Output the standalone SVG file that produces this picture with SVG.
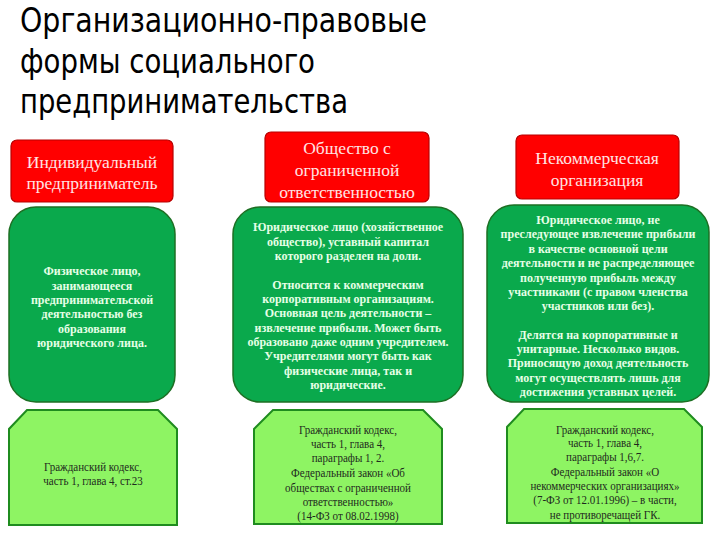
<svg xmlns="http://www.w3.org/2000/svg" width="720" height="540" viewBox="0 0 720 540">
<style>
.title{font-family:"DejaVu Sans Condensed","DejaVu Sans",Verdana,sans-serif;font-size:34px;fill:#000}
.red{fill:#ff0000;stroke:#b80000;stroke-width:1.2}
.redt{font-family:"Liberation Serif","Times New Roman",serif;font-size:17.5px;fill:#ffe4e4;text-anchor:middle}
.grn{fill:#0aa94c;stroke:#1d6f23;stroke-width:1.5}
.grnt{font-family:"Liberation Serif","Times New Roman",serif;font-size:12px;font-weight:bold;fill:#e6ffe6;text-anchor:middle}
.lg{fill:#8ef463;stroke:#1f8c1f;stroke-width:2}
.lgt{font-family:"Liberation Serif","Times New Roman",serif;font-size:12.5px;fill:#1e2a1e;text-anchor:middle}
</style>
<rect width="720" height="540" fill="#ffffff"/>
<g id="title">
<text class="title" x="20" y="32" textLength="407" lengthAdjust="spacingAndGlyphs">Организационно-правовые</text>
<text class="title" x="20" y="73" textLength="295" lengthAdjust="spacingAndGlyphs">формы социального</text>
<text class="title" x="20" y="113" textLength="328" lengthAdjust="spacingAndGlyphs">предпринимательства</text>
</g>
<g id="connectors"/>
<g id="ip-head">
<rect class="red" x="11" y="140" width="162" height="62" rx="6"/>
<text class="redt" x="92" y="168">Индивидуальный</text>
<text class="redt" x="92" y="189">предприниматель</text>
</g>
<g id="ooo-head">
<rect class="red" x="265" y="132" width="164" height="70" rx="6"/>
<text class="redt" x="347" y="154">Общество с</text>
<text class="redt" x="347" y="176">ограниченной</text>
<text class="redt" x="347" y="198">ответственностью</text>
</g>
<g id="nko-head">
<rect class="red" x="516" y="135" width="163" height="64" rx="6"/>
<text class="redt" x="597" y="164">Некоммерческая</text>
<text class="redt" x="597" y="186">организация</text>
</g>
<g id="ip-desc">
<rect class="grn" x="9" y="207" width="166" height="195" rx="27"/>
<text class="grnt" x="92" y="275">Физическое лицо,</text>
<text class="grnt" x="92" y="289.5">занимающееся</text>
<text class="grnt" x="92" y="304">предпринимательской</text>
<text class="grnt" x="92" y="318">деятельностью без</text>
<text class="grnt" x="92" y="332.5">образования</text>
<text class="grnt" x="92" y="347">юридического лица.</text>
</g>
<g id="ooo-desc">
<rect class="grn" x="233" y="207" width="230" height="195" rx="27"/>
<text class="grnt" x="348" y="231">Юридическое лицо (хозяйственное</text>
<text class="grnt" x="348" y="245.5">общество), уставный капитал</text>
<text class="grnt" x="348" y="260">которого разделен на доли.</text>
<text class="grnt" x="348" y="289">Относится к коммерческим</text>
<text class="grnt" x="348" y="303">корпоративным организациям.</text>
<text class="grnt" x="348" y="317">Основная цель деятельности –</text>
<text class="grnt" x="348" y="331.5">извлечение прибыли. Может быть</text>
<text class="grnt" x="348" y="346">образовано даже одним учредителем.</text>
<text class="grnt" x="348" y="360">Учредителями могут быть как</text>
<text class="grnt" x="348" y="374.5">физические лица, так и</text>
<text class="grnt" x="348" y="389">юридические.</text>
</g>
<g id="nko-desc">
<rect class="grn" x="487" y="205" width="222" height="197" rx="27"/>
<text class="grnt" x="598" y="224">Юридическое лицо, не</text>
<text class="grnt" x="598" y="238">преследующее извлечение прибыли</text>
<text class="grnt" x="598" y="253">в качестве основной цели</text>
<text class="grnt" x="598" y="267">деятельности и не распределяющее</text>
<text class="grnt" x="598" y="282">полученную прибыль между</text>
<text class="grnt" x="598" y="296">участниками (с правом членства</text>
<text class="grnt" x="598" y="310">участников или без).</text>
<text class="grnt" x="598" y="339">Делятся на корпоративные и</text>
<text class="grnt" x="598" y="353">унитарные. Несколько видов.</text>
<text class="grnt" x="598" y="367">Приносящую доход деятельность</text>
<text class="grnt" x="598" y="382">могут осуществлять лишь для</text>
<text class="grnt" x="598" y="396">достижения уставных целей.</text>
</g>
<g id="ip-law">
<path class="lg" d="M27,410 L158,410 L177,429 L177,525 L9,525 L9,429 Z"/>
<g transform="translate(93,0) scale(0.88,1)">
<text class="lgt" x="0" y="471">Гражданский кодекс,</text>
<text class="lgt" x="0" y="485">часть 1, глава 4, ст.23</text>
</g>
</g>
<g id="ooo-law">
<path class="lg" d="M273,410 L423,410 L442,429 L442,524 L254,524 L254,429 Z"/>
<g transform="translate(348,0) scale(0.88,1)">
<text class="lgt" x="0" y="434">Гражданский кодекс,</text>
<text class="lgt" x="0" y="448">часть 1, глава 4,</text>
<text class="lgt" x="0" y="462">параграфы 1, 2.</text>
<text class="lgt" x="0" y="477">Федеральный закон «Об</text>
<text class="lgt" x="0" y="492">обществах с ограниченной</text>
<text class="lgt" x="0" y="506">ответственностью»</text>
<text class="lgt" x="0" y="520">(14-ФЗ от 08.02.1998)</text>
</g>
</g>
<g id="nko-law">
<path class="lg" d="M524,409 L684,409 L702,427 L702,523 L507,523 L507,427 Z"/>
<g transform="translate(605,0) scale(0.88,1)">
<text class="lgt" x="0" y="434">Гражданский кодекс,</text>
<text class="lgt" x="0" y="447">часть 1, глава 4,</text>
<text class="lgt" x="0" y="461">параграфы 1,6,7.</text>
<text class="lgt" x="0" y="476">Федеральный закон «О</text>
<text class="lgt" x="0" y="490">некоммерческих организациях»</text>
<text class="lgt" x="0" y="504">(7-ФЗ от 12.01.1996) – в части,</text>
<text class="lgt" x="0" y="519">не противоречащей ГК.</text>
</g>
</g>
</svg>
